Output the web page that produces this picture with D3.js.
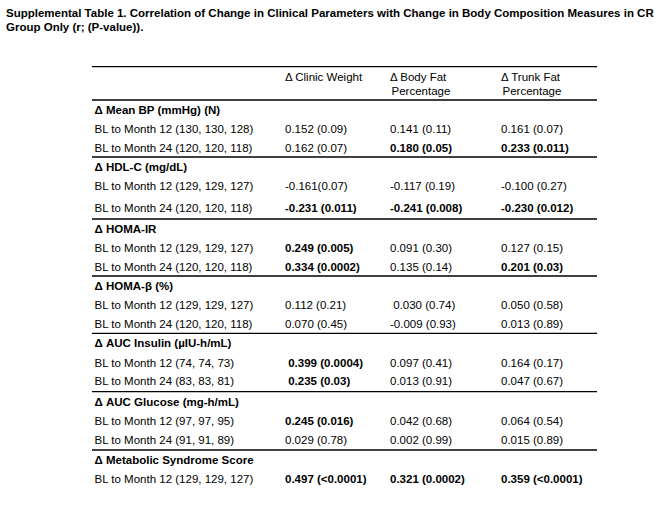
<!DOCTYPE html>
<html>
<head>
<meta charset="utf-8">
<script src="https://cdn.jsdelivr.net/npm/d3@7"></script>
<style>
  body { margin: 0; background: #fff; }
  svg { display: block; }
  text { font-family: "Liberation Sans", Arial, sans-serif; font-size: 11.5px; fill: #000; white-space: pre; }
</style>
</head>
<body>
<div id="chart"></div>
<script>
// table content
var titleLines = [
    "Supplemental Table 1. Correlation of Change in Clinical Parameters with Change in Body Composition Measures in CR",
    "Group Only (r; (P-value))."
];

var columnHeads = [
    ["\u0394 Clinic Weight"],
    ["\u0394 Body Fat", "Percentage"],
    ["\u0394 Trunk Fat", "Percentage"]
];

var groups = [
    "\u0394 Mean BP (mmHg) (N)",
    "\u0394 HDL-C (mg/dL)",
    "\u0394 HOMA-IR",
    "\u0394 HOMA-\u03b2 (%)",
    "\u0394 AUC Insulin (\u00b5IU-h/mL)",
    "\u0394 AUC Glucose (mg-h/mL)",
    "\u0394 Metabolic Syndrome Score"
];

var rowLabels = [
    ["BL to Month 12 (130, 130, 128)", "BL to Month 24 (120, 120, 118)"],
    ["BL to Month 12 (129, 129, 127)", "BL to Month 24 (120, 120, 118)"],
    ["BL to Month 12 (129, 129, 127)", "BL to Month 24 (120, 120, 118)"],
    ["BL to Month 12 (129, 129, 127)", "BL to Month 24 (120, 120, 118)"],
    ["BL to Month 12 (74, 74, 73)", "BL to Month 24 (83, 83, 81)"],
    ["BL to Month 12 (97, 97, 95)", "BL to Month 24 (91, 91, 89)"],
    ["BL to Month 12 (129, 129, 127)"]
];

var clinicWeight = [
    ["0.152 (0.09)", "0.162 (0.07)"],
    ["-0.161(0.07)", "-0.231 (0.011)"],
    ["0.249 (0.005)", "0.334 (0.0002)"],
    ["0.112 (0.21)", "0.070 (0.45)"],
    [" 0.399 (0.0004)", " 0.235 (0.03)"],
    ["0.245 (0.016)", "0.029 (0.78)"],
    ["0.497 (<0.0001)"]
];

var bodyFat = [
    ["0.141 (0.11)", "0.180 (0.05)"],
    ["-0.117 (0.19)", "-0.241 (0.008)"],
    ["0.091 (0.30)", "0.135 (0.14)"],
    [" 0.030 (0.74)", "-0.009 (0.93)"],
    ["0.097 (0.41)", "0.013 (0.91)"],
    ["0.042 (0.68)", "0.002 (0.99)"],
    ["0.321 (0.0002)"]
];

var trunkFat = [
    ["0.161 (0.07)", "0.233 (0.011)"],
    ["-0.100 (0.27)", "-0.230 (0.012)"],
    ["0.127 (0.15)", "0.201 (0.03)"],
    ["0.050 (0.58)", "0.013 (0.89)"],
    ["0.164 (0.17)", "0.047 (0.67)"],
    ["0.064 (0.54)", "0.015 (0.89)"],
    ["0.359 (<0.0001)"]
];

var valueColumns = [clinicWeight, bodyFat, trunkFat];

var width = 664, height = 506;

var svg = d3.select("#chart").append("svg")
    .attr("width", width)
    .attr("height", height);

svg.append("rect").attr("width", width).attr("height", height).attr("fill", "#fff");

// title
svg.selectAll("text.title")
    .data(titleLines).enter()
    .append("text")
    .attr("class", "title")
    .attr("x", 6)
    .attr("y", function (d, i) { return 17.3 + i * 13.8; })
    .style("font-weight", "bold")
    .text(function (d) { return d; });

var left = 92, right = 597;
var labelX = 94.5;

// column positions
var x = d3.scaleOrdinal()
    .domain([0, 1, 2])
    .range([285, 390, 501]);

// group blocks stacked under the header (HDL block is a bit taller in the original)
var blockHeights = [57, 62, 57, 57.3, 58.4, 58.3, 40];
var tops = [0].concat(Array.from(d3.cumsum(blockHeights)));
var y = d3.scaleLinear().domain([0, 1]).range([100, 101]);
function blockTop(i) { return y(tops[i]); }

var labelOffset = 14, rowOffsets = [33.3, 52];
function rowOffset(gi, ri) { return rowOffsets[ri] + (gi == 1 && ri == 1 ? 3 : 0); }

function rule(yy) {
    svg.append("line")
        .attr("x1", left).attr("x2", right)
        .attr("y1", yy).attr("y2", yy)
        .attr("stroke", "#000").attr("stroke-width", 1.3);
}

// top rule and header rule
rule(66.7);
rule(blockTop(0));

// header
columnHeads.forEach(function (lines, c) {
    svg.selectAll(null)
        .data(lines).enter()
        .append("text")
        .attr("x", function (d, i) { return x(c) + (c > 0 && i == 1 ? 1.5 : 0); })
        .attr("y", function (d, i) { return 80.7 + i * 14.5; })
        .text(function (d) { return d; });
});

function isSignificant(s) {
    var m = s.match(/\(<?([0-9.]+)\)/);
    return m && +m[1] <= 0.05;
}

var blocks = svg.selectAll("g.block")
    .data(groups).enter()
    .append("g")
    .attr("class", "block");

blocks.append("text")
    .attr("x", labelX)
    .attr("y", function (d, i) { return blockTop(i) + labelOffset; })
    .style("font-weight", "bold")
    .text(function (d) { return d; });

blocks.each(function (g, gi) {
    var block = d3.select(this);
    rowLabels[gi].forEach(function (lab, ri) {
        var yy = blockTop(gi) + rowOffset(gi, ri);
        block.append("text")
            .attr("x", labelX)
            .attr("y", yy)
            .text(lab);
        valueColumns.forEach(function (col, c) {
            var v = col[gi][ri];
            block.append("text")
                .attr("x", x(c))
                .attr("y", yy)
                .style("font-weight", isSignificant(v) ? "bold" : "normal")
                .text(v);
        });
    });
    // rule under every block but the last
    if (gi < groups.length - 1) rule(blockTop(gi + 1));
});
</script>
</body>
</html>
